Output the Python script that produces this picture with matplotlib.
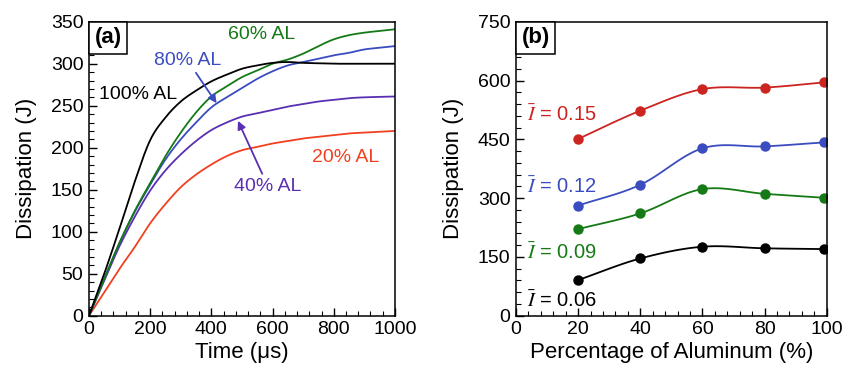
import numpy as np
import matplotlib.pyplot as plt
from matplotlib.offsetbox import AnchoredText
from matplotlib.ticker import MultipleLocator

plt.rcParams['font.family'] = ['Liberation Sans', 'DejaVu Sans']
plt.rcParams['mathtext.fontset'] = 'stix'

# (a) dissipation vs time for each aluminium fraction
time_us = [0, 50, 100, 150, 200, 250, 300, 350, 400, 450, 500,
           550, 600, 650, 700, 750, 800, 850, 900, 950, 1000]
al100 = [0, 50, 104, 160, 209, 236, 255, 268, 279, 287, 294,
         298, 301, 302, 301, 300.5, 300, 300, 300, 300, 300]
al80 = [0, 44, 87, 124, 156, 186, 210, 230, 248, 260, 271,
        282, 291, 298, 302, 306, 310, 313, 317, 319, 321]
al60 = [0, 44, 87, 125, 158, 190, 218, 242, 261, 273, 284,
        292, 300, 305, 312, 321, 329, 334, 337, 339, 341]
al40 = [0, 42, 83, 118, 149, 173, 192, 208, 221, 230, 237,
        241, 245, 249, 252, 255, 257, 259, 260, 260.5, 261]
al20 = [0, 28, 56, 82, 110, 133, 153, 168, 180, 190, 197,
        201, 205, 208, 211, 213, 215, 217, 218, 219, 220]

# (b) dissipation vs aluminium percentage for each impulse
al_pct = [20, 40, 60, 80, 99]
imp_015 = [451, 523, 578, 582, 595]
imp_012 = [281, 334, 427, 432, 442]
imp_009 = [221, 261, 323, 311, 301]
imp_006 = [91, 146, 176, 172, 170]

RED_A = '#f2401f'
PURPLE = '#5a2fb2'
BLUE = '#3a4cc0'
GREEN = '#157a15'
RED_B = '#cc2420'


def smooth(x, y, n=20):
    # catmull-rom curve through the points, for drawing only
    pts = np.column_stack([x, y]).astype(float)
    p = np.vstack([2 * pts[0] - pts[1], pts, 2 * pts[-1] - pts[-2]])
    s = np.linspace(0, 1, n, endpoint=False)[:, None]
    out = []
    for i in range(1, len(p) - 2):
        p0, p1, p2, p3 = p[i - 1], p[i], p[i + 1], p[i + 2]
        out.append(0.5 * (2 * p1 + (-p0 + p2) * s
                          + (2 * p0 - 5 * p1 + 4 * p2 - p3) * s ** 2
                          + (-p0 + 3 * p1 - 3 * p2 + p3) * s ** 3))
    out.append(pts[-1:])
    c = np.vstack(out)
    return c[:, 0], c[:, 1]


def style_axes(ax, label):
    ax.tick_params(which='both', direction='in', labelsize=14, pad=4,
                   top=False, right=False)
    ax.tick_params(which='major', length=6, width=1)
    ax.tick_params(which='minor', length=3.5, width=0.8)
    for sp in ax.spines.values():
        sp.set_linewidth(1.1)
    at = AnchoredText(label, loc='upper left', borderpad=0, pad=0.25,
                      prop=dict(size=16, weight='bold'), frameon=True)
    at.patch.set_linewidth(1.1)
    ax.add_artist(at)


fig = plt.figure(figsize=(8.53, 3.65), dpi=100)
axa = fig.add_axes([0.1043, 0.135, 0.3587, 0.8055])
axb = fig.add_axes([0.6049, 0.135, 0.3642, 0.8055])

for vals, col in [(al20, RED_A), (al40, PURPLE), (al80, BLUE),
                  (al60, GREEN), (al100, 'black')]:
    xs, ys = smooth(time_us, vals)
    axa.plot(xs, ys, color=col, lw=1.3)

axa.set_xlim(0, 1000)
axa.set_ylim(0, 350)
axa.xaxis.set_major_locator(MultipleLocator(200))
axa.xaxis.set_minor_locator(MultipleLocator(40))
axa.yaxis.set_major_locator(MultipleLocator(50))
axa.yaxis.set_minor_locator(MultipleLocator(10))
axa.set_xlabel('Time (μs)', fontsize=16, labelpad=3)
axa.set_ylabel('Dissipation (J)', fontsize=16, labelpad=10)
style_axes(axa, '(a)')

axa.text(33, 263, '100% AL', fontsize=14, color='black', ha='left', va='center')
axa.text(564, 335, '60% AL', fontsize=14, color=GREEN, ha='center', va='center')
axa.text(839, 188, '20% AL', fontsize=14, color=RED_A, ha='center', va='center')
axa.annotate('80% AL', xy=(417, 253), xytext=(322, 304), fontsize=14,
             color=BLUE, ha='center', va='center',
             arrowprops=dict(arrowstyle='-|>', color=BLUE, lw=1.3,
                             mutation_scale=12, shrinkA=1, shrinkB=0))
axa.annotate('40% AL', xy=(487, 232), xytext=(585, 154), fontsize=14,
             color=PURPLE, ha='center', va='center',
             arrowprops=dict(arrowstyle='-|>', color=PURPLE, lw=1.3,
                             mutation_scale=12, shrinkA=1, shrinkB=0))

series_b = [(imp_015, RED_B, '0.15', 512), (imp_012, BLUE, '0.12', 329),
            (imp_009, GREEN, '0.09', 162), (imp_006, 'black', '0.06', 38)]
for vals, col, lab, ty in series_b:
    xs, ys = smooth(al_pct, vals)
    axb.plot(xs, ys, color=col, lw=1.3)
    axb.plot(al_pct, vals, 'o', color=col, ms=6.5)
    axb.text(3.5, ty, r'$\bar{I}$' + ' = ' + lab, fontsize=14.5, color=col,
             ha='left', va='center')

axb.set_xlim(0, 100)
axb.set_ylim(0, 750)
axb.xaxis.set_major_locator(MultipleLocator(20))
axb.xaxis.set_minor_locator(MultipleLocator(4))
axb.yaxis.set_major_locator(MultipleLocator(150))
axb.yaxis.set_minor_locator(MultipleLocator(30))
axb.set_xlabel('Percentage of Aluminum (%)', fontsize=16, labelpad=3)
axb.set_ylabel('Dissipation (J)', fontsize=16, labelpad=10)
style_axes(axb, '(b)')

fig.savefig('out.png', dpi=100)
